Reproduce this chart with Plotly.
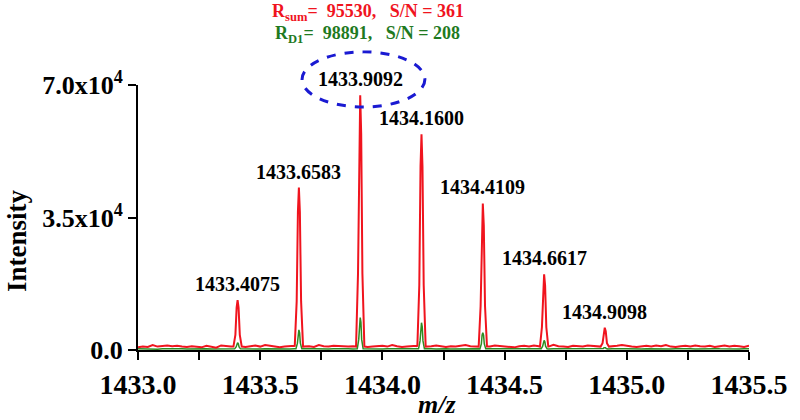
import numpy as np
import plotly.graph_objects as go

# Baseline sampling (m/z step 0.02) and noise levels
base_mz = np.round(np.arange(1433.0, 1435.5001, 0.02), 3)
red_base = [
    700, 900, 800, 1300, 900, 1100, 1200, 1000, 1100, 900,
    800, 1000, 900, 700, 1100, 800, 600, 1200, 1000, 900,
    1100, 900, 800, 1000, 1200, 900, 1300, 1100, 800, 700,
    900, 1000, 1100, 1200, 900, 1000, 800, 1300, 1000, 900,
    1100, 1000, 800, 900, 1000, 1100, 1200, 800, 900, 1000,
    1100, 900, 1300, 1000, 800, 900, 1000, 1100, 1400, 900,
    1000, 1200, 900, 800, 1000, 900, 1100, 1300, 1000, 900,
    800, 1000, 900, 1200, 1100, 900, 800, 700, 1000, 1100,
    900, 1200, 1000, 800, 900, 1400, 1000, 900, 800, 1100,
    1000, 900, 1200, 1100, 900, 1000, 800, 900, 1100, 1300,
    1000, 900, 800, 1000, 1100, 900, 1200, 1000, 1300, 900,
    800, 1000, 1100, 900, 1200, 1000, 900, 1100, 800, 1000,
    1200, 900, 1100, 1000, 800, 1100,
]
green_base = [
    300, 250, 350, 300, 200, 300, 350, 250, 300, 300,
    250, 300, 200, 300, 350, 250, 300, 300, 250, 300,
    350, 300, 250, 300, 300, 250, 350, 300, 250, 300,
    300, 250, 300, 350, 250, 300, 300, 250, 300, 250,
    300, 350, 250, 300, 250, 300, 300, 250, 350, 300,
    250, 300, 300, 250, 300, 350, 250, 300, 300, 250,
    300, 250, 350, 300, 250, 300, 300, 250, 300, 350,
    250, 300, 300, 250, 300, 250, 350, 300, 250, 300,
    300, 250, 300, 350, 250, 300, 300, 250, 300, 250,
    350, 300, 250, 300, 300, 250, 300, 350, 250, 300,
    300, 250, 300, 250, 350, 300, 250, 300, 300, 250,
    300, 350, 250, 300, 250, 300, 300, 250, 350, 300,
    250, 300, 300, 250, 300, 300,
]

# Isotope peaks
peak_mz = [1433.4075, 1433.6583, 1433.9092, 1434.1600, 1434.4109, 1434.6617, 1434.9098]
peak_labels = ["1433.4075", "1433.6583", "1433.9092", "1434.1600", "1434.4109", "1434.6617", "1434.9098"]

# Profile points around each peak (offset in m/z, intensity)
red_offsets = [-0.017, -0.009, -0.004, 0.0, 0.004, 0.009, 0.017]
red_profiles = [
    [900, 4000, 11200, 13200, 11200, 4000, 900],
    [900, 12900, 36500, 42900, 36500, 12900, 900],
    [900, 20200, 57200, 67300, 57200, 20200, 900],
    [900, 17100, 48500, 57000, 48500, 17100, 900],
    [900, 11600, 32900, 38700, 32900, 11600, 900],
    [900, 6000, 17000, 20000, 17000, 6000, 900],
    [900, 1800, 5000, 5900, 5000, 1800, 900],
]
green_offsets = [-0.012, -0.006, -0.003, 0.0, 0.003, 0.006, 0.012]
green_profiles = [
    [300, 800, 1650, 1950, 1650, 800, 300],
    [300, 1800, 4500, 5300, 4500, 1800, 300],
    [300, 2800, 7300, 8550, 7300, 2800, 300],
    [300, 2400, 6100, 7200, 6100, 2400, 300],
    [300, 1600, 3900, 4600, 3900, 1600, 300],
    [300, 1000, 2200, 2560, 2200, 1000, 300],
    [250, 400, 600, 700, 600, 400, 250],
]


def build_trace(base_vals, offsets, profiles):
    keep = np.ones(len(base_mz), dtype=bool)
    for p in peak_mz:
        keep &= ~((base_mz > p + offsets[0]) & (base_mz < p + offsets[-1]))
    xs = list(base_mz[keep])
    ys = list(np.array(base_vals)[keep])
    for p, prof in zip(peak_mz, profiles):
        xs += [p + o for o in offsets]
        ys += prof
    order = np.argsort(xs)
    return np.array(xs)[order], np.array(ys)[order]


gx, gy = build_trace(green_base, green_offsets, green_profiles)
rx, ry = build_trace(red_base, red_offsets, red_profiles)

RED = "#f0141e"
GREEN = "#1f7a1f"
SERIF = "Liberation Serif"

fig = go.Figure()
fig.add_trace(go.Scatter(x=gx, y=gy, mode="lines", line=dict(color="#2e8b22", width=1.5), showlegend=False))
fig.add_trace(go.Scatter(x=rx, y=ry, mode="lines", line=dict(color=RED, width=2), showlegend=False))

# peak labels
for mz, lab, prof in zip(peak_mz, peak_labels, red_profiles):
    fig.add_annotation(x=mz, y=max(prof), text=lab, showarrow=False, yshift=16,
                       xanchor="center", yanchor="middle",
                       font=dict(family=SERIF, size=20, color="black", weight="bold"))

# resolution / S/N text
fig.add_annotation(xref="paper", yref="paper", x=0.376, y=1.275, showarrow=False,
                   xanchor="center", yanchor="middle",
                   text="R<sub>sum</sub>=  95530,   S/N = 361",
                   font=dict(family=SERIF, size=18, color=RED, weight="bold"))
fig.add_annotation(xref="paper", yref="paper", x=0.376, y=1.189, showarrow=False,
                   xanchor="center", yanchor="middle",
                   text="R<sub>D1</sub>=  98891,   S/N = 208",
                   font=dict(family=SERIF, size=18, color=GREEN, weight="bold"))

# axis titles
fig.add_annotation(xref="paper", yref="paper", x=-0.198, y=0.411, showarrow=False, textangle=-90,
                   xanchor="center", yanchor="middle",
                   text="Intensity", font=dict(family=SERIF, size=27, color="black", weight="bold"))
fig.add_annotation(xref="paper", yref="paper", x=0.49, y=-0.2075, showarrow=False,
                   xanchor="center", yanchor="middle",
                   text="<i>m/z</i>", font=dict(family=SERIF, size=26, color="black", weight="bold"))

# dashed ellipse around the base peak label
fig.add_shape(type="circle", xref="paper", yref="paper", x0=0.2685, x1=0.4695, y0=0.917, y1=1.125,
              line=dict(color="#1a1ad2", width=3, dash="dash"))

x_ticks = [1433.0, 1433.25, 1433.5, 1433.75, 1434.0, 1434.25, 1434.5, 1434.75, 1435.0, 1435.25, 1435.5]
x_text = ["1433.0", "", "1433.5", "", "1434.0", "", "1434.5", "", "1435.0", "", "1435.5"]
y_ticks = [0, 35000, 70000]
y_text = ["0.0", "3.5x10<sup>4</sup>", "7.0x10<sup>4</sup>"]

fig.update_xaxes(range=[1433.0, 1435.5], tickvals=x_ticks, ticktext=x_text,
                 showline=True, linecolor="black", linewidth=2, ticks="outside",
                 ticklen=8, tickwidth=2, tickcolor="black", showgrid=False, zeroline=False,
                 ticklabeloverflow="allow",
                 tickfont=dict(family=SERIF, size=28, color="black", weight="bold"))
fig.update_yaxes(range=[0, 70000], tickvals=y_ticks, ticktext=y_text,
                 showline=True, linecolor="black", linewidth=2, ticks="outside",
                 ticklen=8, tickwidth=2, tickcolor="black", showgrid=False, zeroline=False,
                 tickfont=dict(family=SERIF, size=26, color="black", weight="bold"))

fig.update_layout(width=800, height=420, plot_bgcolor="white", paper_bgcolor="white",
                  margin=dict(l=138, r=40, t=85, b=70))

# drop the default 8px page margin so the figure sits at the window corner
fig.write_html("out.html", config={"displayModeBar": False},
               post_script="document.body.style.margin='0px';")
